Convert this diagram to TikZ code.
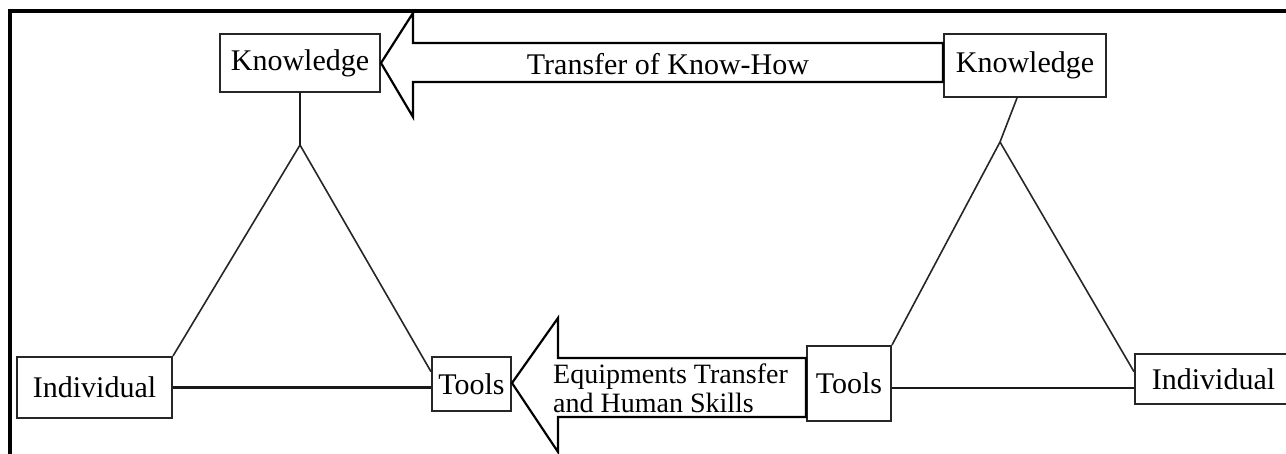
\documentclass[tikz,border=0pt]{standalone}
\usepackage{fontspec}
\setmainfont{Liberation Serif}
\usetikzlibrary{calc}
\begin{document}
\begin{tikzpicture}[x=1pt,y=-1pt,
  box/.style={draw=black!85,line width=2pt,fill=white,inner sep=0pt,
    font=\fontsize{30}{32}\selectfont},
  leg/.style={draw=black!85,line width=1.6pt},
  link/.style={draw=black!90,line width=2.4pt},
  bigarrow/.style={draw=black,line width=2.2pt,line join=miter,fill=white},
  frame/.style={draw=black,line width=3.2pt}]
\clip (0,0) rectangle (1286,454);
\useasboundingbox (0,0) rectangle (1286,454);
\fill[white] (0,0) rectangle (1286,454);
% outer frame (left and top edges)
\draw[frame] (10,460) -- (10,11) -- (1290,11);

% left triangle
\node[box,minimum width=160pt,minimum height=58pt] (kL) at (300,63) {Knowledge};
\node[box,minimum width=155pt,minimum height=61pt] (iL) at (94.5,387.5) {Individual};
\node[box,minimum width=79pt,minimum height=54pt] (tL) at (471.5,384) {Tools};
\coordinate (aL) at (300,145);
\draw[link] (kL.south) -- (aL);
\draw[leg] (aL) -- (iL.north east);
\draw[leg] (aL) -- ($(tL.north west)!0.28!(tL.south west)$);
\draw[link] (iL.east) -- (iL.east -| tL.west);

% right triangle
\node[box,minimum width=162pt,minimum height=63pt] (kR) at (1025,65.5) {Knowledge};
\node[box,minimum width=84pt,minimum height=75pt] (tR) at (849,383.5) {Tools};
\node[box,minimum width=157pt,minimum height=50pt] (iR) at (1213.5,379) {Individual};
\coordinate (aR) at (1000,142);
\draw[leg] ($(kR.south)+(-8,0)$) -- (aR);
\draw[leg] (aR) -- (tR.north east);
\draw[leg] (aR) -- ($(iR.north west)!0.36!(iR.south west)$);
\draw[link] (tR.east |- 0,388) -- (iR.west |- 0,388);

% transfer of know-how
\draw[bigarrow] (kL.east) -- (413,13) -- (413,43) -- (kR.west |- 0,43)
  -- (kR.west |- 0,82) -- (413,82) -- (413,117) -- cycle;
\node[font=\fontsize{30}{32}\selectfont,inner sep=0pt] (tkh) at (668,64) {Transfer of Know-How};

% equipments transfer and human skills
\draw[bigarrow] (tL.east |- 0,383) -- (558,318) -- (558,358) -- (tR.west |- 0,358)
  -- (tR.west |- 0,417) -- (558,417) -- (558,452) -- cycle;
\node[font=\fontsize{28}{29}\selectfont,inner sep=0pt,align=left,anchor=west]
  (ehs) at (553,388) {Equipments Transfer\\and Human Skills};
\end{tikzpicture}
\end{document}
